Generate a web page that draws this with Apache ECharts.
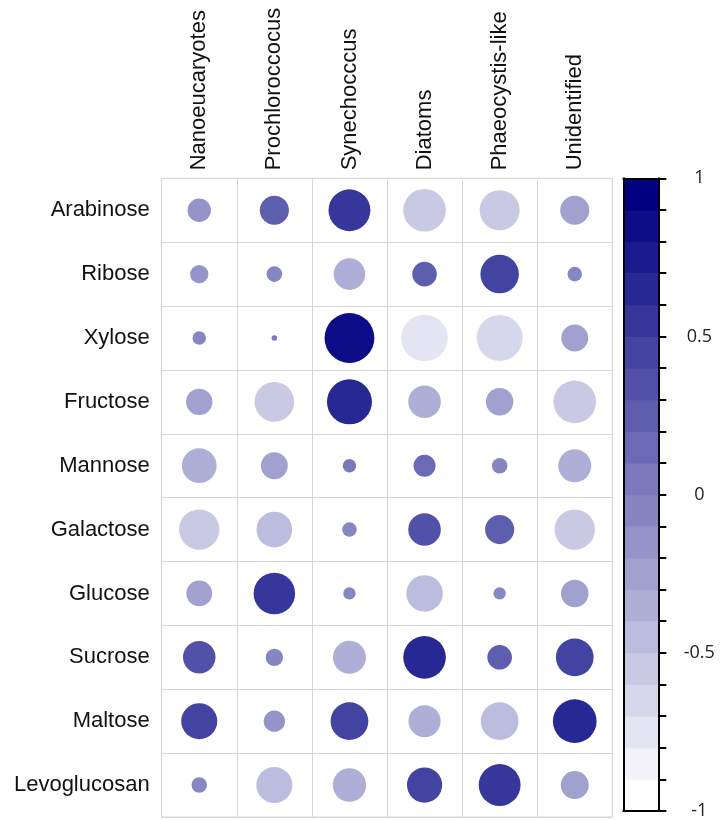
<!DOCTYPE html>
<html>
<head>
<meta charset="utf-8">
<script src="https://cdn.jsdelivr.net/npm/echarts@6/dist/echarts.min.js"></script>
<style>
  html, body { margin: 0; padding: 0; background: #ffffff; }
  #chart { width: 720px; height: 820px; }
</style>
</head>
<body>
<div id="chart"></div>
<script>
// ---- Data ----
const sugars = ['Arabinose', 'Ribose', 'Xylose', 'Fructose', 'Mannose', 'Galactose', 'Glucose', 'Sucrose', 'Maltose', 'Levoglucosan'];
const groups = ['Nanoeucaryotes', 'Prochloroccocus', 'Synechocccus', 'Diatoms', 'Phaeocystis-like', 'Unidentified'];

// correlation values per group, in the order of `sugars`
const nanoeucaryotes  = [-0.18, -0.11, -0.06, -0.23, -0.40, -0.54, -0.22,  0.35,  0.43, -0.08];
const prochloroccocus = [ 0.28, -0.08,  0.01, -0.52, -0.24, -0.42,  0.57, -0.10, -0.15, -0.43];
const synechocccus    = [ 0.58, -0.33,  0.82,  0.67,  0.06, -0.07, -0.05, -0.36,  0.47, -0.37];
const diatoms         = [-0.60,  0.20, -0.72, -0.35,  0.16,  0.35, -0.44,  0.60, -0.34,  0.41];
const phaeocystis     = [-0.53,  0.49, -0.70, -0.25, -0.08,  0.28, -0.05,  0.20, -0.47,  0.58];
const unidentified    = [-0.28, -0.07, -0.24, -0.60, -0.36, -0.54, -0.25,  0.47,  0.63, -0.26];

// colour bar bin edges and labelled ticks
const colorbarEdges = [-1, -0.9, -0.8, -0.7, -0.6, -0.5, -0.4, -0.3, -0.2, -0.1, 0, 0.1, 0.2, 0.3, 0.4, 0.5, 0.6, 0.7, 0.8, 0.9, 1];
const colorbarLabels = [-1, -0.5, 0, 0.5, 1];

// ---- Styles ----
const palette = ['#FFFFFF', '#F2F2F8', '#E4E4F2', '#D7D7EB', '#C9C9E4', '#BCBCDE', '#AEAED7', '#A1A1D0', '#9494CA', '#8686C3',
                 '#7979BC', '#6B6BB5', '#5E5EAF', '#5151A8', '#4343A1', '#36369B', '#282894', '#1B1B8D', '#0D0D87', '#000080'];
const CIRCLE_D = 55;
const gridLineColor = '#d6d6d6';
const labelFont = 'Liberation Sans, Arial, Helvetica, sans-serif';

// ---- Build ECharts data ----
const columns = [nanoeucaryotes, prochloroccocus, synechocccus, diatoms, phaeocystis, unidentified];
const scatterData = [];
columns.forEach((col, ci) => {
  col.forEach((v, ri) => scatterData.push([ci, ri, v]));
});
const barData = [];
for (let i = 0; i < colorbarEdges.length - 1; i++) {
  const lo = colorbarEdges[i], hi = colorbarEdges[i + 1];
  barData.push([0, lo, (lo + hi) / 2, hi]);
}
const pieces = [];
for (let i = 0; i < colorbarEdges.length - 1; i++) {
  const p = { gte: colorbarEdges[i], color: palette[i] };
  if (i === colorbarEdges.length - 2) p.lte = colorbarEdges[i + 1]; else p.lt = colorbarEdges[i + 1];
  pieces.push(p);
}

const chart = echarts.init(document.getElementById('chart'), null, { renderer: 'canvas' });
const option = {
  backgroundColor: '#ffffff',
  animation: false,
  grid: [
    { left: 161.7, right: 107.7, top: 178.3, bottom: 3, show: true, borderColor: gridLineColor, borderWidth: 1, backgroundColor: 'transparent' },
    { left: 623.3, width: 35, top: 178.3, bottom: 3 }
  ],
  xAxis: [
    {
      gridIndex: 0, type: 'category', data: groups, position: 'top', boundaryGap: true,
      axisLine: { show: true, lineStyle: { color: gridLineColor, width: 1 } },
      axisTick: { show: false },
      axisLabel: { interval: 0, rotate: -90, fontSize: 22, color: '#111', fontFamily: labelFont, margin: 8 },
      splitLine: { show: true, lineStyle: { color: gridLineColor, width: 1 } }
    },
    {
      gridIndex: 1, type: 'value', min: 0, max: 1, position: 'bottom', z: 10,
      axisLine: { show: true, onZero: false, lineStyle: { color: '#000', width: 2 } },
      axisTick: { show: false }, axisLabel: { show: false }, splitLine: { show: false }
    },
    {
      gridIndex: 1, type: 'value', min: 0, max: 1, position: 'top', z: 10,
      axisLine: { show: true, onZero: false, lineStyle: { color: '#000', width: 2 } },
      axisTick: { show: false }, axisLabel: { show: false }, splitLine: { show: false }
    }
  ],
  yAxis: [
    {
      gridIndex: 0, type: 'category', data: sugars, inverse: true, boundaryGap: true,
      axisLine: { show: true, lineStyle: { color: gridLineColor, width: 1 } },
      axisTick: { show: false },
      axisLabel: { interval: 0, fontSize: 22, color: '#111', fontFamily: labelFont, margin: 12 },
      splitLine: { show: true, lineStyle: { color: gridLineColor, width: 1 } }
    },
    {
      gridIndex: 1, type: 'value', min: -1, max: 1, interval: 0.1, position: 'right', z: 10,
      axisLine: { show: true, onZero: false, lineStyle: { color: '#000', width: 2 } },
      axisTick: { show: true, inside: false, length: 8, lineStyle: { color: '#000', width: 2 } },
      axisLabel: {
        show: true, align: 'center', margin: 41, fontSize: 18, color: '#222',
        fontFamily: 'Open Sans, DejaVu Sans, sans-serif',
        formatter: function (v) {
          for (const t of colorbarLabels) { if (Math.abs(v - t) < 1e-6) return String(t); }
          return '';
        }
      },
      splitLine: { show: false }
    },
    {
      gridIndex: 1, type: 'value', min: -1, max: 1, position: 'left', z: 10,
      axisLine: { show: true, onZero: false, lineStyle: { color: '#000', width: 2 } },
      axisTick: { show: false }, axisLabel: { show: false }, splitLine: { show: false }
    }
  ],
  visualMap: {
    type: 'piecewise', show: false, dimension: 2, seriesIndex: [0, 1], pieces: pieces
  },
  series: [
    {
      type: 'scatter', xAxisIndex: 0, yAxisIndex: 0, data: scatterData,
      symbol: 'circle',
      symbolSize: function (val) { return CIRCLE_D * Math.sqrt(Math.abs(val[2])); },
      itemStyle: { opacity: 1 },
      emphasis: { disabled: true }
    },
    {
      type: 'custom', xAxisIndex: 1, yAxisIndex: 1, data: barData,
      encode: { x: 0, y: 1 },
      renderItem: function (params, api) {
        const yLo = api.coord([0, api.value(1)])[1];
        const yHi = api.coord([0, api.value(3)])[1];
        return {
          type: 'rect',
          shape: { x: params.coordSys.x, y: yHi, width: params.coordSys.width, height: yLo - yHi + 0.5 },
          style: { fill: api.visual('color') }
        };
      }
    }
  ]
};
chart.setOption(option);
</script>
</body>
</html>
